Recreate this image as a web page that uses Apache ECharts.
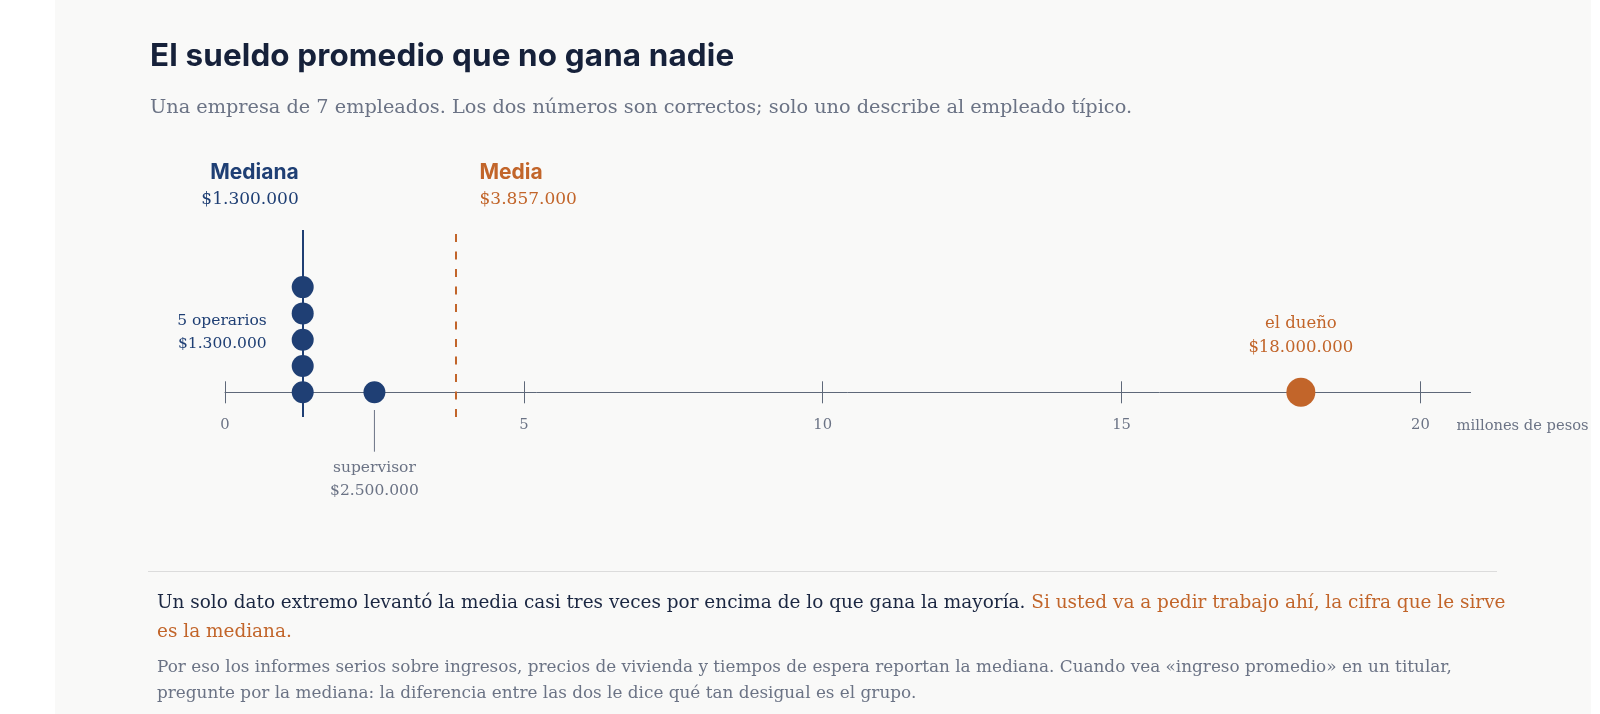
<!DOCTYPE html>
<html lang="es">
<head>
<meta charset="utf-8">
<title>El sueldo promedio que no gana nadie</title>
<script src="https://cdn.jsdelivr.net/npm/echarts@6/dist/echarts.min.js"></script>
<style>
html, body { margin: 0; padding: 0; background: #fff; }
body { width: 1600px; height: 714px; position: relative; overflow: hidden; }
#panel { position: absolute; left: 55px; top: 0; width: 1536px; height: 714px; background: #f9f9f8; }
#chart { position: absolute; left: 0; top: 0; width: 1600px; height: 714px; }
.t { position: absolute; margin: 0; white-space: nowrap; }
#title { left: 150px; top: 35.4px; font: 700 31.4px/40px Inter, sans-serif; letter-spacing: 0.15px; color: #16213a; }
#sub { left: 150px; top: 95px; font: 19.3px/24px "DejaVu Serif", serif; color: #6b7385; }
#rule { position: absolute; left: 148px; top: 571px; width: 1349px; height: 1px; background: #dcdcdc; }
#p1 { left: 157px; top: 586.6px; font: 18.45px/29px "DejaVu Serif", serif; color: #1b2742; }
#p1 span { color: #c2652a; }
#p2 { left: 157px; top: 654px; font: 16.85px/25.6px "DejaVu Serif", serif; color: #6b7385; }
</style>
</head>
<body>
<div id="panel"></div>
<div id="chart"></div>
<h1 class="t" id="title">El sueldo promedio que no gana nadie</h1>
<p class="t" id="sub">Una empresa de 7 empleados. Los dos números son correctos; solo uno describe al empleado típico.</p>
<div id="rule"></div>
<p class="t" id="p1">Un solo dato extremo levantó la media casi tres veces por encima de lo que gana la mayoría. <span>Si usted va a pedir trabajo ahí, la cifra que le sirve<br>es la mediana.</span></p>
<p class="t" id="p2">Por eso los informes serios sobre ingresos, precios de vivienda y tiempos de espera reportan la mediana. Cuando vea «ingreso promedio» en un titular,<br>pregunte por la mediana: la diferencia entre las dos le dice qué tan desigual es el grupo.</p>
<script>
// datos: sueldos mensuales en millones de pesos
var roles = ['operario', 'operario', 'operario', 'operario', 'operario', 'supervisor', 'dueño'];
var salaries = [1.3, 1.3, 1.3, 1.3, 1.3, 2.5, 18];
var tickValues = [0, 5, 10, 15, 20];
var axisUnit = 'millones de pesos';

var NAVY = '#1f3f74', ORANGE = '#c2652a', GREY = '#6b7385', AXIS = '#5e6879';
var SERIF = 'DejaVu Serif', SANS = 'Inter';

// media y mediana salen de los datos
var sorted = salaries.slice().sort(function(a, b) { return a - b; });
var median = sorted[Math.floor(sorted.length / 2)];
var mean = salaries.reduce(function(s, v) { return s + v; }, 0) / salaries.length;

function pesos(m) {
	var n = Math.round(m * 1000) * 1000;
	return '$' + String(n).replace(/\B(?=(\d{3})+(?!\d))/g, '.');
}

// puntos apilados: cada sueldo repetido sube un nivel
var staffData = [], ownerData = [];
var seen = {};
salaries.forEach(function(v, i) {
	var level = seen[v] || 0;
	seen[v] = level + 1;
	if (roles[i] === 'dueño') ownerData.push([v, level]);
	else staffData.push([v, level]);
});
var nOperarios = roles.filter(function(r) { return r === 'operario'; }).length;
var supervisorPay = salaries[roles.indexOf('supervisor')];
var ownerPay = salaries[roles.indexOf('dueño')];

// layout
var unitPx = 59.77, axisEnd = 20.84, rowPx = 26.3;
var gridTop = 230, gridBottomY = 417, axisY = 392.3;
var yMin = -(gridBottomY - axisY) / rowPx;
var yMax = (axisY - gridTop) / rowPx;

function txt(x, y, text, color, size, align, bold) {
	return {
		type: 'text',
		style: {
			x: x, y: y, text: text, fill: color,
			font: (bold ? '700 ' : '') + size + 'px "' + (bold ? SANS : SERIF) + '"',
			align: align, verticalAlign: 'middle'
		}
	};
}

function renderNotes(params, api) {
	var m = api.coord([median, 0]);
	var a = api.coord([mean, 0]);
	var sp = api.coord([supervisorPay, 0]);
	var ow = api.coord([ownerPay, 0]);
	var end = api.coord([axisEnd, 0]);
	return {
		type: 'group',
		children: [
			txt(m[0] - 4, m[1] - 220, 'Mediana', NAVY, 21, 'right', true),
			txt(m[0] - 4, m[1] - 193, pesos(median), NAVY, 17, 'right'),
			txt(a[0] + 24, a[1] - 220, 'Media', ORANGE, 21, 'left', true),
			txt(a[0] + 24, a[1] - 193, pesos(mean), ORANGE, 17, 'left'),
			txt(m[0] - 36, m[1] - 71.3, nOperarios + ' operarios', NAVY, 15.5, 'right'),
			txt(m[0] - 36, m[1] - 48.6, pesos(median), NAVY, 15.5, 'right'),
			{
				type: 'line',
				shape: { x1: sp[0], y1: sp[1] + 17.7, x2: sp[0], y2: sp[1] + 59.4 },
				style: { stroke: GREY, lineWidth: 1 }
			},
			txt(sp[0], sp[1] + 75.7, 'supervisor', GREY, 15.5, 'center'),
			txt(sp[0], sp[1] + 98.7, pesos(supervisorPay), GREY, 15.5, 'center'),
			txt(ow[0], ow[1] - 68.8, 'el dueño', ORANGE, 16.5, 'center'),
			txt(ow[0], ow[1] - 44.8, pesos(ownerPay), ORANGE, 16.5, 'center'),
			txt(end[0] - 14, end[1] + 33.7, axisUnit, GREY, 14.7, 'left')
		]
	};
}

var chart = echarts.init(document.getElementById('chart'), null, { renderer: 'canvas' });
chart.setOption({
	animation: false,
	grid: { left: 225, top: gridTop, width: axisEnd * unitPx, height: gridBottomY - gridTop },
	xAxis: [
		{
			type: 'value', min: 0, max: axisEnd,
			position: 'bottom', offset: -(gridBottomY - axisY),
			axisLine: { show: true, onZero: false, lineStyle: { color: AXIS, width: 1 } },
			axisTick: { show: true, length: 11, lineStyle: { color: AXIS }, customValues: tickValues },
			axisLabel: {
				show: true, customValues: tickValues, margin: 25,
				color: GREY, fontFamily: SERIF, fontSize: 14.7
			},
			splitLine: { show: false }
		},
		{
			type: 'value', min: 0, max: axisEnd,
			position: 'top', offset: -(axisY - gridTop),
			axisLine: { show: false, onZero: false },
			axisTick: { show: true, length: 11, lineStyle: { color: AXIS }, customValues: tickValues },
			axisLabel: { show: false },
			splitLine: { show: false }
		}
	],
	yAxis: { type: 'value', min: yMin, max: yMax, show: false },
	series: [
		{
			type: 'scatter', data: [], silent: true, z: 1,
			markLine: {
				silent: true, symbol: ['none', 'none'], label: { show: false },
				data: [
					{ xAxis: median, lineStyle: { color: NAVY, width: 2, type: 'solid' } },
					{ xAxis: mean, lineStyle: { color: ORANGE, width: 2, type: [8, 9.5] } }
				]
			}
		},
		{
			name: 'empleados', type: 'scatter', z: 3, silent: true,
			data: staffData, symbolSize: 22,
			itemStyle: { color: NAVY, opacity: 1 }
		},
		{
			name: 'dueño', type: 'scatter', z: 3, silent: true,
			data: ownerData, symbolSize: 29,
			itemStyle: { color: ORANGE, opacity: 1 }
		},
		{
			type: 'custom', z: 4, silent: true,
			data: [[0, 0]], renderItem: renderNotes
		}
	]
});
</script>
</body>
</html>
